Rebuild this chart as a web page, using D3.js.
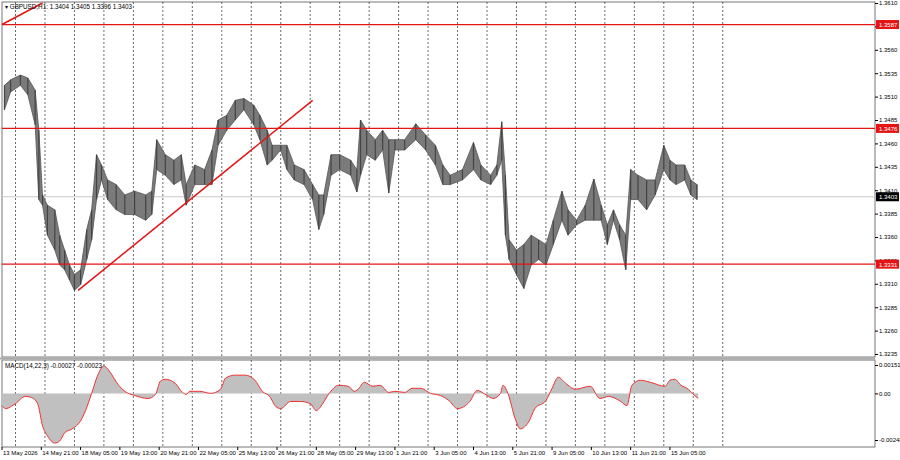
<!DOCTYPE html>
<html><head><meta charset="utf-8">
<script src="https://cdn.jsdelivr.net/npm/d3@7"></script>
<style>body{margin:0;background:#fff}text{font-family:"Liberation Sans",sans-serif;font-size:6.3px;fill:#000}</style>
</head><body><svg id="c" width="900" height="460"></svg>
<script>
const barIdx=[2,7,15,21,27,30,33,37,43,47,51,55,59,64,69,73,77,81,86,93,100,108,117,122,126,133,140,146,150,157,165,171,176,183,190,197,205,210,216,220,227,232,238,246,253,258,262,268,275,284,289,292,297,304,310,315,320,328,337,345,353,359,365,375,384,390,398,403,407,410,413,419,425,431,437,443,449,456,461,468,475,482,488,493,498,503,508,512,518,525,532,539,544,549,556,561,566];
const highs=[1.3522,1.3528,1.3533,1.3530,1.3517,1.3474,1.3405,1.3394,1.3389,1.3362,1.3346,1.3330,1.3320,1.3325,1.3368,1.3389,1.3448,1.3437,1.3421,1.3416,1.3405,1.3409,1.3405,1.3409,1.3464,1.3448,1.3442,1.3448,1.3416,1.3437,1.3432,1.3453,1.3485,1.3490,1.3506,1.3508,1.3501,1.3490,1.3474,1.3458,1.3458,1.3458,1.3437,1.3432,1.3416,1.3405,1.3405,1.3448,1.3448,1.3442,1.3432,1.3485,1.3474,1.3464,1.3474,1.3464,1.3464,1.3464,1.3481,1.3469,1.3458,1.3437,1.3426,1.3432,1.3461,1.3437,1.3426,1.3437,1.3483,1.3426,1.3357,1.3346,1.3352,1.3362,1.3357,1.3352,1.3378,1.3409,1.3389,1.3378,1.3394,1.3422,1.3394,1.3373,1.3389,1.3373,1.3362,1.3432,1.3426,1.3421,1.3421,1.3458,1.3442,1.3437,1.3437,1.3421,1.3416];
const lows=[1.3496,1.3515,1.3522,1.3512,1.3480,1.3400,1.3394,1.3362,1.3346,1.3330,1.3325,1.3314,1.3303,1.3309,1.3336,1.3357,1.3400,1.3421,1.3400,1.3389,1.3384,1.3384,1.3378,1.3384,1.3432,1.3426,1.3416,1.3421,1.3394,1.3416,1.3416,1.3416,1.3458,1.3474,1.3485,1.3496,1.3480,1.3464,1.3437,1.3442,1.3453,1.3432,1.3421,1.3416,1.3400,1.3368,1.3384,1.3426,1.3432,1.3426,1.3408,1.3426,1.3448,1.3442,1.3453,1.3407,1.3453,1.3453,1.3464,1.3453,1.3437,1.3416,1.3416,1.3421,1.3432,1.3421,1.3416,1.3426,1.3442,1.3362,1.3336,1.3320,1.3305,1.3330,1.3336,1.3330,1.3352,1.3378,1.3362,1.3373,1.3378,1.3378,1.3378,1.3352,1.3378,1.3357,1.3325,1.3400,1.3400,1.3389,1.3405,1.3432,1.3421,1.3416,1.3421,1.3405,1.3400];
const macdIdx=[0,3,11,19,24,29,33,37,43,47,51,57,64,68,73,78,83,88,95,100,108,119,125,129,133,141,147,150,153,161,170,178,182,190,198,206,212,218,223,227,235,243,251,256,259,267,274,282,287,290,295,302,308,315,320,328,334,341,349,357,364,371,381,387,395,400,406,408,412,418,422,429,434,443,448,453,459,467,479,487,494,504,509,513,520,528,540,544,548,553,559,564,567];
const macdVal=[-0.00065,-0.00081,-0.00054,-0.00016,-0.00022,-0.00054,-0.00172,-0.00226,-0.00264,-0.00253,-0.00210,-0.00189,-0.00146,-0.00092,0,0.00097,0.00146,0.00113,0.00043,0.00011,-0.00011,-0.00027,-0.00005,0.00065,0.00075,0.00054,0.00005,-0.00005,0.00011,0.00011,0,0.00022,0.00081,0.00097,0.00097,0.00070,0.00011,-0.00016,-0.00070,-0.00081,-0.00043,-0.00043,-0.00054,-0.00092,-0.00075,0.00005,0.00043,0.00038,0.00011,0.00022,0.00059,0.00038,0.00043,0.00005,0.00011,0.00005,0.00027,0.00027,0,-0.00011,-0.00038,-0.00081,-0.00043,0.00016,-0.00011,-0.00027,0,0.00043,0,-0.00135,-0.00189,-0.00151,-0.00081,-0.00038,0.00027,0.00086,0.00054,0.00022,0.00038,-0.00027,-0.00016,-0.00043,-0.00065,0.00043,0.00070,0.00059,0.00038,0.00070,0.00075,0.00043,0.00022,-0.00011,-0.00027];
const priceTicks=[1.3610,1.3585,1.3560,1.3535,1.3510,1.3485,1.3460,1.3435,1.3410,1.3385,1.3360,1.3335,1.3310,1.3285,1.3260,1.3235];
const macdTicks=[0.00151,0,-0.00248];
const macdTickLabels=["0.00151","0.00","-0.00248"];
const dateLabels=["13 May 2026","14 May 21:00","18 May 05:00","19 May 13:00","20 May 21:00","22 May 05:00","25 May 13:00","26 May 21:00","28 May 05:00","29 May 13:00","1 Jun 21:00","3 Jun 05:00","4 Jun 13:00","5 Jun 21:00","9 Jun 05:00","10 Jun 13:00","11 Jun 21:00","15 Jun 05:00"];
const levels=[1.3587,1.3476,1.3331];
const lastPrice=1.3403;
const trendA=[[62,1.3303],[253,1.3506]];
const trendB=[[0,1.3587],[33,1.3610]];
const firstGrid=11, gridStep=24, nGrid=25, labelStep=32;

const svg=d3.select("#c");
const L=2,R=875,T=2,B=357,MT=360,MB=447;
const x=d3.scaleLinear().domain([0,711]).range([L,R]);
const y=d3.scaleLinear().domain([1.32318,1.3610]).range([B,3]);
const ym=d3.scaleLinear().domain([-0.00248,0.00151]).range([440,365]);

svg.append("rect").attr("x",L).attr("y",T).attr("width",R-L).attr("height",B-T).attr("fill","#fff").attr("stroke","#777");
svg.append("rect").attr("x",L).attr("y",MT).attr("width",R-L).attr("height",MB-MT).attr("fill","#fff").attr("stroke","#777");
svg.append("rect").attr("x",0).attr("y",B+0.5).attr("width",R).attr("height",MT-B-1).attr("fill","#aaa");
const grids=d3.range(nGrid).map(i=>firstGrid+i*gridStep);
[[T,B],[MT,MB]].forEach(([a,b])=>svg.append("g").selectAll("line").data(grids).join("line")
 .attr("x1",d=>x(d)).attr("x2",d=>x(d)).attr("y1",a).attr("y2",b)
 .attr("stroke","#444").attr("stroke-width",0.8).attr("stroke-dasharray","2,2"));
svg.append("line").attr("x1",L).attr("x2",R).attr("y1",y(lastPrice)).attr("y2",y(lastPrice)).attr("stroke","#c8c8c8");
const pts=barIdx.map((b,i)=>({b,h:highs[i],l:lows[i]}));
svg.append("path").datum(pts).attr("d",d3.area().x(d=>x(d.b)).y0(d=>y(d.l)).y1(d=>y(d.h)).curve(d3.curveLinear))
 .attr("fill","#7a7a7a").attr("stroke","#555").attr("stroke-width",0.8);
svg.append("g").selectAll("line").data(pts).join("line")
 .attr("x1",d=>x(d.b)).attr("x2",d=>x(d.b)).attr("y1",d=>y(d.h)).attr("y2",d=>y(d.l)).attr("stroke","#444").attr("stroke-width",1.2);
svg.append("g").selectAll("line").data(levels).join("line").attr("x1",L).attr("x2",R)
 .attr("y1",d=>y(d)).attr("y2",d=>y(d)).attr("stroke","#e41414").attr("stroke-width",1.3);
[trendA,trendB].forEach(t=>svg.append("line").attr("x1",x(t[0][0])).attr("y1",y(t[0][1])).attr("x2",x(t[1][0])).attr("y2",y(t[1][1]))
 .attr("stroke","#e41414").attr("stroke-width",1.5));
const ax=svg.append("g").attr("transform",`translate(${R},0)`).call(d3.axisRight(y).tickValues(priceTicks).tickSize(3).tickFormat(d3.format(".4f")));
ax.select(".domain").remove(); ax.selectAll("text").attr("x",4).style("font-size","6px").style("font-family","Liberation Sans");
levels.forEach(v=>{const g=svg.append("g").attr("transform",`translate(${R+1},${y(v)})`);
 g.append("rect").attr("x",0).attr("y",-4.5).attr("width",23).attr("height",9).attr("fill","#e41414");
 g.append("text").attr("x",3).attr("y",2.5).style("fill","#fff").style("font-size","6px").text(v.toFixed(4));});
{const g=svg.append("g").attr("transform",`translate(${R+1},${y(lastPrice)})`);
 g.append("rect").attr("x",0).attr("y",-4.5).attr("width",23).attr("height",9).attr("fill","#000");
 g.append("text").attr("x",3).attr("y",2.5).style("fill","#fff").style("font-size","6px").text(lastPrice.toFixed(4));}
const mp=macdIdx.map((b,i)=>({b,v:macdVal[i]}));
svg.append("path").datum(mp).attr("d",d3.area().x(d=>x(d.b)).y0(ym(0)).y1(d=>ym(d.v)).curve(d3.curveMonotoneX)).attr("fill","#c0c0c0");
svg.append("path").datum(mp).attr("d",d3.line().x(d=>x(d.b)).y(d=>ym(d.v)).curve(d3.curveMonotoneX)).attr("fill","none").attr("stroke","#f03030").attr("stroke-width",1);
const am=svg.append("g").attr("transform",`translate(${R},0)`).call(d3.axisRight(ym).tickValues(macdTicks).tickSize(3).tickFormat((d,i)=>macdTickLabels[i]));
am.select(".domain").remove(); am.selectAll("text").attr("x",4).style("font-size","6px").style("font-family","Liberation Sans");
const bl=svg.append("g");
dateLabels.forEach((t,i)=>{const xx=x(i*labelStep);
 bl.append("line").attr("x1",xx).attr("x2",xx).attr("y1",MB).attr("y2",MB+3).attr("stroke","#000");
 bl.append("text").attr("x",xx+1).attr("y",455).style("font-size","6px").text(t);});
svg.append("text").attr("x",5).attr("y",9).text("▾ GBPUSD,H1: 1.3404 1.3405 1.3396 1.3403");
svg.append("text").attr("x",5).attr("y",368).text("MACD(14,22,3) -0.00027 -0.00023");
</script></body></html>
